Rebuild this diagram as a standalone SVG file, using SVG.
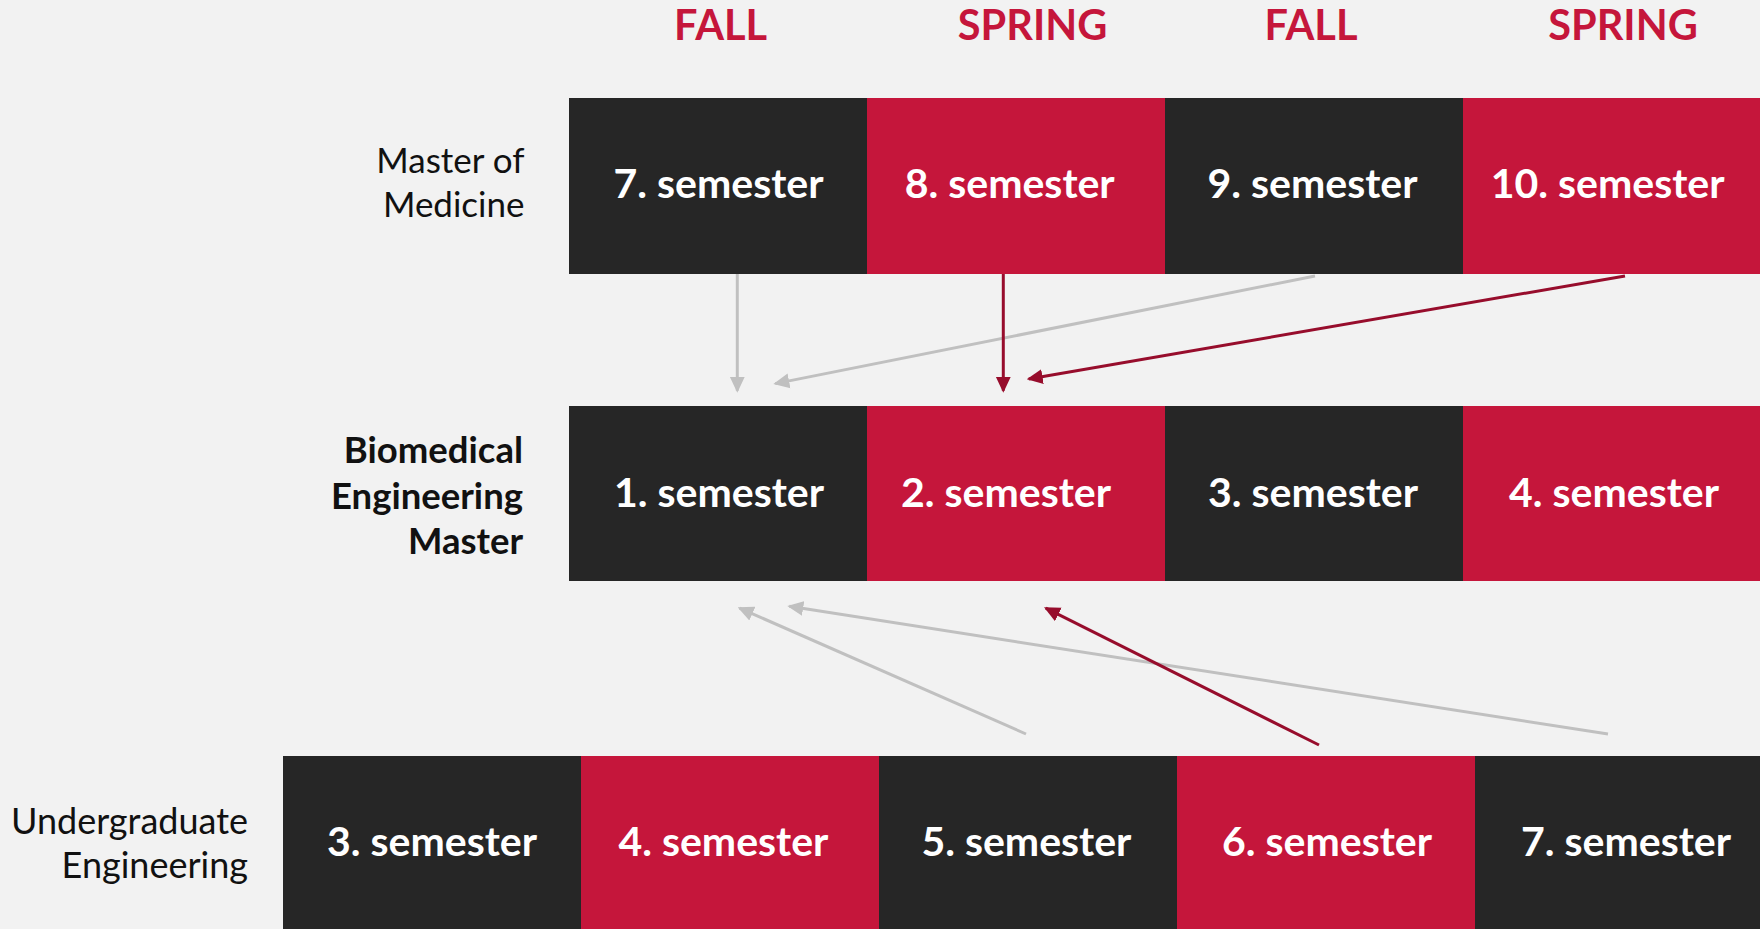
<svg xmlns="http://www.w3.org/2000/svg" width="1760" height="929" viewBox="0 0 1760 929">
  <defs>
    <style>
      .dark { fill: #262626; }
      .red { fill: #c5163b; }
      .sem { font-family: Lato, "Open Sans", sans-serif; font-weight: 700; font-size: 41px; fill: #ffffff; text-anchor: middle; }
      .term { font-family: Lato, "Open Sans", sans-serif; font-weight: 700; font-size: 41.5px; fill: #c5163b; text-anchor: middle; }
      .label { font-family: Lato, "Open Sans", sans-serif; font-size: 35px; fill: #111111; text-anchor: end; }
      .label.wide { font-size: 36px; }
      .label.bold { font-weight: 700; font-size: 36.5px; }
      .gray-link { stroke: #c0c0c0; stroke-width: 3; fill: none; marker-end: url(#head-gray); }
      .red-link { stroke: #970d2c; stroke-width: 3; fill: none; marker-end: url(#head-red); }
    </style>
    <marker id="head-gray" markerUnits="userSpaceOnUse" markerWidth="16" markerHeight="16" viewBox="0 0 16 16" refX="14" refY="8" orient="auto">
      <path d="M0,0.5 L16,8 L0,15.5 z" fill="#c0c0c0"/>
    </marker>
    <marker id="head-red" markerUnits="userSpaceOnUse" markerWidth="16" markerHeight="16" viewBox="0 0 16 16" refX="14" refY="8" orient="auto">
      <path d="M0,0.5 L16,8 L0,15.5 z" fill="#970d2c"/>
    </marker>
  </defs>

  <rect width="1760" height="929" fill="#f2f2f2"/>

  <!-- term headings -->
  <g id="terms">
    <text class="term" x="720.6" y="40">FALL</text>
    <text class="term" x="1032.6" y="40">SPRING</text>
    <text class="term" x="1311" y="40">FALL</text>
    <text class="term" x="1623" y="40">SPRING</text>
  </g>

  <!-- row labels -->
  <g id="label-medicine">
    <text class="label" x="524.5" y="172.7">Master of</text>
    <text class="label" x="524.5" y="216.7">Medicine</text>
  </g>
  <g id="label-bme">
    <text class="label bold" x="523" y="463.3">Biomedical</text>
    <text class="label bold" x="523" y="509.3">Engineering</text>
    <text class="label bold" x="523" y="554">Master</text>
  </g>
  <g id="label-undergrad">
    <text class="label wide" x="248" y="834.3">Undergraduate</text>
    <text class="label wide" x="248" y="878.3">Engineering</text>
  </g>

  <!-- Master of Medicine row -->
  <g id="med-7"><rect class="dark" x="569" y="98" width="298" height="176"/><text class="sem" x="718.5" y="198.3">7. semester</text></g>
  <g id="med-8"><rect class="red" x="867" y="98" width="298" height="176"/><text class="sem" x="1009.7" y="198.3">8. semester</text></g>
  <g id="med-9"><rect class="dark" x="1165" y="98" width="298" height="176"/><text class="sem" x="1312.5" y="198.3">9. semester</text></g>
  <g id="med-10"><rect class="red" x="1463" y="98" width="298" height="176"/><text class="sem" x="1607.6" y="198.3">10. semester</text></g>

  <!-- Biomedical Engineering Master row -->
  <g id="bme-1"><rect class="dark" x="569" y="406" width="298" height="175"/><text class="sem" x="719" y="506.7">1. semester</text></g>
  <g id="bme-2"><rect class="red" x="867" y="406" width="298" height="175"/><text class="sem" x="1006" y="506.7">2. semester</text></g>
  <g id="bme-3"><rect class="dark" x="1165" y="406" width="298" height="175"/><text class="sem" x="1313" y="506.7">3. semester</text></g>
  <g id="bme-4"><rect class="red" x="1463" y="406" width="298" height="175"/><text class="sem" x="1614" y="506.7">4. semester</text></g>

  <!-- Undergraduate Engineering row -->
  <g id="ug-3"><rect class="dark" x="283" y="756" width="298" height="176"/><text class="sem" x="432" y="856">3. semester</text></g>
  <g id="ug-4"><rect class="red" x="581" y="756" width="298" height="176"/><text class="sem" x="723.4" y="856">4. semester</text></g>
  <g id="ug-5"><rect class="dark" x="879" y="756" width="298" height="176"/><text class="sem" x="1026.4" y="856">5. semester</text></g>
  <g id="ug-6"><rect class="red" x="1177" y="756" width="298" height="176"/><text class="sem" x="1327" y="856">6. semester</text></g>
  <g id="ug-7"><rect class="dark" x="1475" y="756" width="298" height="176"/><text class="sem" x="1626" y="856">7. semester</text></g>

  <!-- connectors -->
  <g id="connectors">
    <line class="gray-link" x1="737.3" y1="274" x2="737.3" y2="390.7"/>
    <line class="gray-link" x1="1315" y1="276" x2="775.3" y2="383.6"/>
    <line class="gray-link" x1="1026" y1="734" x2="739.5" y2="608.1"/>
    <line class="gray-link" x1="1608" y1="734" x2="789.3" y2="606.3"/>
    <line class="red-link" x1="1003.3" y1="274" x2="1003.3" y2="390.7"/>
    <line class="red-link" x1="1625" y1="276" x2="1028.7" y2="379"/>
    <line class="red-link" x1="1319" y1="745" x2="1045.8" y2="608.2"/>
  </g>
</svg>
